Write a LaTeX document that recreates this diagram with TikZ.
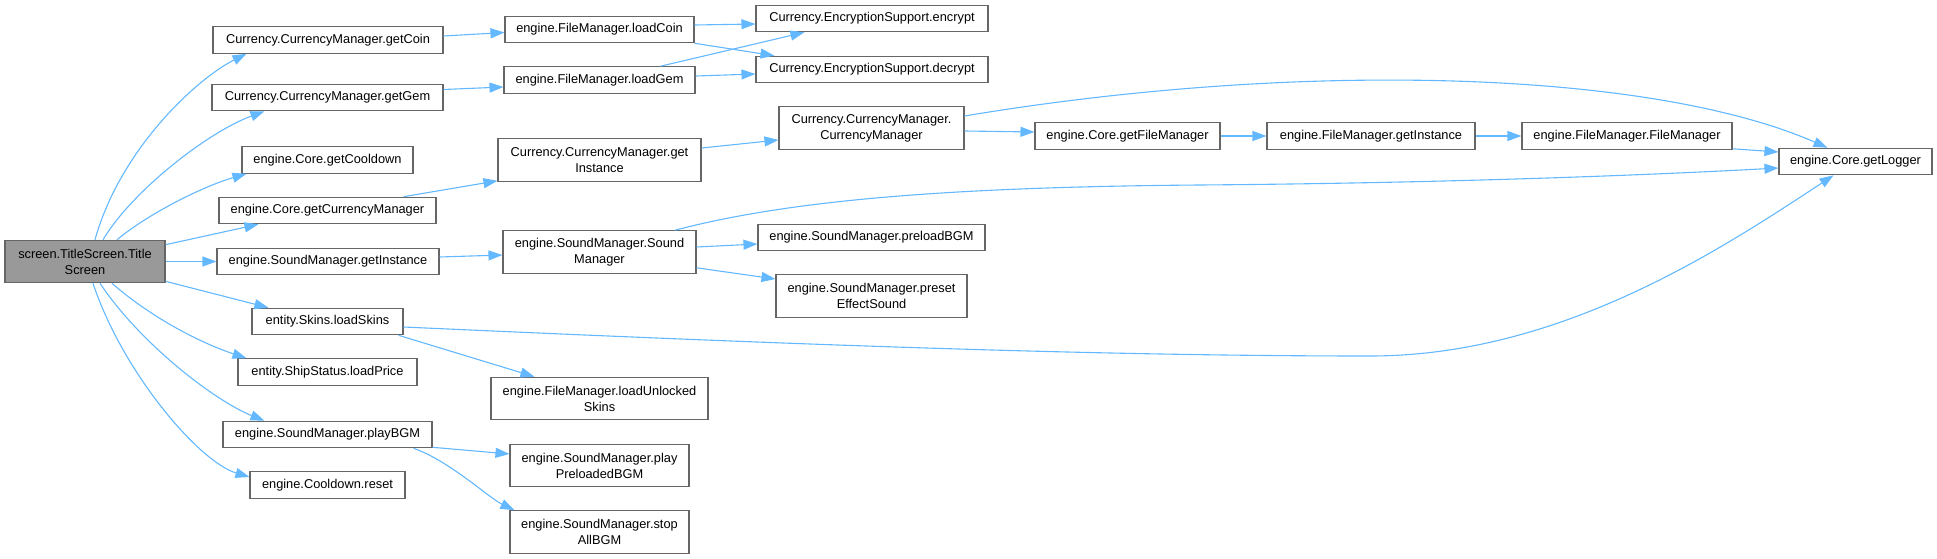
\documentclass[tikz,border=0pt]{standalone}
\usepackage{fontspec}
\setmainfont{Liberation Sans}
\usetikzlibrary{arrows.meta}
\definecolor{edgeblue}{HTML}{63B8FF}
\definecolor{boxgray}{HTML}{666666}
\definecolor{rootfill}{HTML}{999999}
\begin{document}
\begin{tikzpicture}[x=1pt, y=-1pt,
    fnbox/.style={draw=boxgray, line width=1.1pt, fill=white, inner sep=0pt,
      minimum height=26.5pt, align=center, font=\fontsize{12.8}{16}\selectfont},
    twoline/.style={minimum height=42.5pt},
    rootbox/.style={fnbox, twoline, fill=rootfill},
    call/.style={draw=edgeblue, line width=1.1pt, -{Triangle[length=14pt,width=10pt]}}]
  \useasboundingbox (0,0) rectangle (1937,559);
  % Caller
  \node[rootbox, minimum width=160pt] (root) at (85,261.5) {screen.TitleScreen.Title\\Screen};
  % First level
  \node[fnbox, minimum width=230pt] (getCoin) at (328,40) {Currency.CurrencyManager.getCoin};
  \node[fnbox, minimum width=231pt] (getGem) at (327.5,97.5) {Currency.CurrencyManager.getGem};
  \node[fnbox, minimum width=171pt] (getCooldown) at (327.5,160) {engine.Core.getCooldown};
  \node[fnbox, minimum width=217pt] (getCurMgr) at (327.5,210.5) {engine.Core.getCurrencyManager};
  \node[fnbox, minimum width=222pt] (smInst) at (328,261.5) {engine.SoundManager.getInstance};
  \node[fnbox, minimum width=151pt] (loadSkins) at (327.5,321.5) {entity.Skins.loadSkins};
  \node[fnbox, minimum width=179pt] (loadPrice) at (327.5,372) {entity.ShipStatus.loadPrice};
  \node[fnbox, minimum width=209pt] (playBGM) at (327.5,434.5) {engine.SoundManager.playBGM};
  \node[fnbox, minimum width=155pt] (reset) at (327.5,485) {engine.Cooldown.reset};
  % Second level
  \node[fnbox, minimum width=189pt] (loadCoin) at (599.5,29.5) {engine.FileManager.loadCoin};
  \node[fnbox, minimum width=191pt] (loadGem) at (599.5,80) {engine.FileManager.loadGem};
  \node[fnbox, twoline, minimum width=203pt] (cmInst) at (599.5,160) {Currency.CurrencyManager.get\\Instance};
  \node[fnbox, twoline, minimum width=193pt] (smCtor) at (599.5,252) {engine.SoundManager.Sound\\Manager};
  \node[fnbox, twoline, minimum width=217pt] (loadUnlocked) at (599.5,398.5) {engine.FileManager.loadUnlocked\\Skins};
  \node[fnbox, twoline, minimum width=179pt] (playPre) at (599.5,465.5) {engine.SoundManager.play\\PreloadedBGM};
  \node[fnbox, twoline, minimum width=179pt] (stopAll) at (599.5,532) {engine.SoundManager.stop\\AllBGM};
  % Third level
  \node[fnbox, minimum width=232pt] (encrypt) at (872,18.5) {Currency.EncryptionSupport.encrypt};
  \node[fnbox, minimum width=232pt] (decrypt) at (872,69.5) {Currency.EncryptionSupport.decrypt};
  \node[fnbox, twoline, minimum width=185pt] (cmCtor) at (871.5,128) {Currency.CurrencyManager.\\CurrencyManager};
  \node[fnbox, minimum width=227pt] (preload) at (871.5,237.5) {engine.SoundManager.preloadBGM};
  \node[fnbox, twoline, minimum width=191pt] (preset) at (871.5,296) {engine.SoundManager.preset\\EffectSound};
  % File manager chain
  \node[fnbox, minimum width=185pt] (getFM) at (1127.5,136) {engine.Core.getFileManager};
  \node[fnbox, minimum width=208pt] (fmInst) at (1371,136) {engine.FileManager.getInstance};
  \node[fnbox, minimum width=210pt] (fmCtor) at (1627,136) {engine.FileManager.FileManager};
  \node[fnbox, minimum width=153pt] (getLogger) at (1855.5,161.5) {engine.Core.getLogger};
  % Calls from the caller
  \draw[call] ([xshift=10pt]root.north) .. controls +(25,-90) and +(-50,25) .. ([xshift=34pt]getCoin.south west);
  \draw[call] ([xshift=18pt]root.north) .. controls +(30,-50) and +(-55,20) .. ([xshift=53pt]getGem.south west);
  \draw[call] ([xshift=32pt]root.north) .. controls +(30,-25) and +(-45,13) .. ([xshift=5pt]getCooldown.south west);
  \draw[call] ([yshift=-5pt]root.north east) -- ([xshift=40pt]getCurMgr.south west);
  \draw[call] (root.east) -- (smInst.west);
  \draw[call] ([yshift=2pt]root.south east) -- ([xshift=17pt]loadSkins.north west);
  \draw[call] ([xshift=27pt]root.south) .. controls +(40,35) and +(-45,-15) .. ([xshift=9pt]loadPrice.north west);
  \draw[call] ([xshift=15pt]root.south) .. controls +(40,60) and +(-50,-20) .. ([xshift=42pt]playBGM.north west);
  \draw[call] ([xshift=8pt]root.south) .. controls +(30,90) and +(-50,-15) .. ([yshift=8pt]reset.west);
  % Second level calls
  \draw[call] ([yshift=4pt]getCoin.east) -- ([yshift=-3pt]loadCoin.west);
  \draw[call] ([yshift=8pt]getGem.east) -- ([yshift=-7pt]loadGem.west);
  \draw[call] ([xshift=-33pt]getCurMgr.north east) -- ([yshift=1pt]cmInst.south west);
  \draw[call] ([yshift=4.5pt]smInst.east) -- ([yshift=-3pt]smCtor.west);
  \draw[call] ([yshift=-5.5pt]loadSkins.east) .. controls (800,345) and (1100,356) .. (1370,356)
    .. controls (1560,356) and (1720,250) .. ([xshift=-22pt]getLogger.south);
  \draw[call] ([xshift=-5pt]loadSkins.south east) -- ([xshift=44pt]loadUnlocked.north west);
  \draw[call] ([yshift=1pt]playBGM.south east) -- ([yshift=11.5pt]playPre.west);
  \draw[call] ([xshift=-19pt]playBGM.south east) .. controls +(35,12) and +(-25,-12) .. ([xshift=5pt]stopAll.north west);
  % Third level calls
  \draw[call] ([yshift=4.5pt]loadCoin.east) -- ([yshift=-5.5pt]encrypt.west);
  \draw[call] (loadCoin.south east) -- ([xshift=19pt]decrypt.north west);
  \draw[call] ([xshift=-35pt]loadGem.north east) -- ([xshift=49pt]encrypt.south west);
  \draw[call] ([yshift=4pt]loadGem.east) -- ([yshift=-4.5pt]decrypt.west);
  \draw[call] ([yshift=12pt]cmInst.east) -- ([yshift=-12pt]cmCtor.west);
  \draw[call] ([yshift=5pt]smCtor.east) -- ([yshift=-6.5pt]preload.west);
  \draw[call] ([yshift=6pt]smCtor.south east) -- ([yshift=17pt]preset.west);
  % Logger and file manager
  \draw[call] ([yshift=-3pt]cmCtor.east) -- ([yshift=4pt]getFM.west);
  \draw[call] ([yshift=12pt]cmCtor.east) .. controls (1300,60) and (1650,70) .. ([xshift=-28pt]getLogger.north);
  \draw[call] ([xshift=75.5pt]smCtor.north) .. controls (790,200) and (950,187) .. (1200,185)
    .. controls (1450,183) and (1650,175) .. ([yshift=-6.5pt]getLogger.west);
  \draw[call] (getFM.east) -- (fmInst.west);
  \draw[call] (fmInst.east) -- (fmCtor.west);
  \draw[call] ([yshift=1pt]fmCtor.south east) -- ([yshift=9.5pt]getLogger.west);
\end{tikzpicture}
\end{document}
